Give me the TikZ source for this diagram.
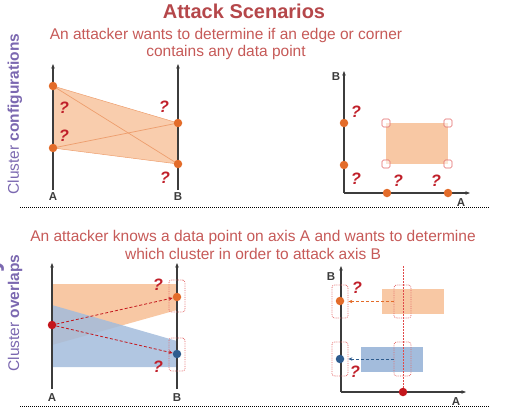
\documentclass[tikz,border=0pt]{standalone}
\usepackage{fontspec}
\setmainfont{Liberation Sans}
\usetikzlibrary{arrows.meta}
\definecolor{titlered}{HTML}{B5474A}
\definecolor{subred}{HTML}{C65A58}
\definecolor{qred}{HTML}{C0202A}
\definecolor{purp}{HTML}{7B68B0}
\definecolor{peach}{HTML}{F8C8A4}
\definecolor{orangedot}{HTML}{E36C2A}
\definecolor{orangeline}{HTML}{EE9E6E}
\definecolor{bluefill}{HTML}{A3BCDC}
\definecolor{bluedot}{HTML}{2E5C8E}
\definecolor{reddot}{HTML}{C4161C}
\definecolor{axisgray}{HTML}{3C3C3C}
\definecolor{boxred}{HTML}{E36A6A}
\definecolor{vlinered}{HTML}{E04A4A}
\begin{document}
\begin{tikzpicture}[x=1pt,y=-1pt,
  axis/.style={draw=axisgray, line width=1.4pt, -{Stealth[length=4.5pt,width=3.5pt]}},
  dot/.style={circle, inner sep=0pt, minimum size=8.5pt, fill=#1},
  qm/.style={text=qred, inner sep=0pt, font=\fontsize{16.5}{16.5}\selectfont\bfseries\itshape},
  axlabel/.style={text=axisgray, inner sep=0pt, font=\fontsize{11.5}{11.5}\selectfont\bfseries},
  subtitle/.style={text=subred, align=center, inner sep=0pt, font=\fontsize{15.5}{17.5}\selectfont},
  sidelabel/.style={text=purp, rotate=90, inner sep=0pt, font=\fontsize{15.5}{15.5}\selectfont},
  cornerbox/.style={draw=boxred, line width=0.6pt, fill=white, fill opacity=0.55, rounded corners=1.5pt, minimum size=8pt, inner sep=0pt},
  selbox/.style={draw=boxred, densely dotted, line width=0.8pt, rounded corners=2.5pt, inner sep=0pt, minimum width=#1},
  dasharrow/.style={draw=#1, dash pattern=on 3pt off 2pt, line width=0.8pt, -{Stealth[length=4pt,width=3.5pt]}},
  separator/.style={draw=black, densely dotted, line width=1pt}
]
\useasboundingbox (0,0) rectangle (514,410);

% ---------- headings ----------
\node[text=titlered, inner sep=0pt, font=\fontsize{20}{20}\selectfont\bfseries, anchor=base] (title) at (244,18.5) {Attack Scenarios};
\node[subtitle] (sub1) at (226,44) {An attacker wants to determine if an edge or corner\\contains any data point};
\node[subtitle] (sub2) at (253,245) {An attacker knows a data point on axis A and wants to determine\\which cluster in order to attack axis B};
\node[sidelabel] (side1) at (15,114) {Cluster \textbf{configurations}};
\node[sidelabel] (side2) at (15,313) {Cluster \textbf{overlaps}};
\node[text=purp, rotate=90, inner sep=0pt, anchor=base east, font=\fontsize{26}{26}\selectfont\bfseries] (side3) at (-1.5,258) {Uncertainty};

% ---------- separators ----------
\coordinate (s1l) at (20,207); \coordinate (s1r) at (490,207);
\coordinate (s2l) at (20,406); \coordinate (s2r) at (490,406);
\draw[separator] (s1l) -- (s1r);
\draw[separator] (s2l) -- (s2r);

% ---------- top left: parallel coordinates ----------
\coordinate (tlA0) at (53,190); \coordinate (tlA1) at (53,64);
\coordinate (tlB0) at (178,190); \coordinate (tlB1) at (178,64);
\coordinate (a1) at (53,86);
\coordinate (a2) at (53,148);
\coordinate (b1) at (178,123);
\coordinate (b2) at (178,164);
\fill[peach, opacity=0.9] (a1) -- (b1) -- (b2) -- (a2) -- cycle;
\draw[orangeline, line width=0.5pt] (a1) -- (b1);
\draw[orangeline, line width=0.5pt] (a2) -- (b2);
\draw[orangeline, line width=0.7pt] (a1) -- (b2);
\draw[orangeline, line width=0.7pt] (a2) -- (b1);
\draw[axis] (tlA0) -- (tlA1);
\draw[axis] (tlB0) -- (tlB1);
\node[dot=orangedot] (da1) at (a1) {};
\node[dot=orangedot] (da2) at (a2) {};
\node[dot=orangedot] (db1) at (b1) {};
\node[dot=orangedot] (db2) at (b2) {};
\node[axlabel] (tlAl) at (53,197) {A};
\node[axlabel] (tlBl) at (178,197) {B};
\node[qm] (q1) at (64,108) {?};
\node[qm] (q2) at (64,136) {?};
\node[qm] (q3) at (164,107) {?};
\node[qm] (q4) at (165,178) {?};

% ---------- top right: scatter ----------
\coordinate (trO) at (344,193); \coordinate (trY) at (344,71); \coordinate (trX) at (470,193);
\fill[peach] (386,123) rectangle (448,164);
\node[cornerbox] (c1) at (386,123) {};
\node[cornerbox] (c2) at (448,123) {};
\node[cornerbox] (c3) at (386,164) {};
\node[cornerbox] (c4) at (448,164) {};
\draw[axis] (trO) -- (trY);
\draw[axis] (trO) -- (trX);
\node[dot=orangedot] (ry1) at (344,123) {};
\node[dot=orangedot] (ry2) at (344,165) {};
\node[dot=orangedot] (rx1) at (387,193) {};
\node[dot=orangedot] (rx2) at (448,193) {};
\node[axlabel] (trBl) at (336,77) {B};
\node[axlabel] (trAl) at (461,203) {A};
\node[qm] (q5) at (356,112) {?};
\node[qm] (q6) at (356,179) {?};
\node[qm] (q7) at (398,181) {?};
\node[qm] (q8) at (436,181) {?};

% ---------- bottom left: parallel coordinates overlap ----------
\coordinate (blA0) at (52,389); \coordinate (blA1) at (52,263);
\coordinate (blB0) at (177,389); \coordinate (blB1) at (177,263);
\fill[peach] (52,284) -- (177,284) -- (177,310) -- (52,345) -- cycle;
\fill[bluefill, opacity=0.85] (52,305) -- (177,341) -- (177,367) -- (52,367) -- cycle;
\draw[axis] (blA0) -- (blA1);
\draw[axis] (blB0) -- (blB1);
\node[dot=reddot] (pr) at (52,325) {};
\node[dot=orangedot] (po) at (177,297) {};
\node[dot=bluedot] (pb) at (177,354) {};
\node[selbox=16pt, minimum height=32pt] (bo) at (177,296) {};
\node[selbox=16pt, minimum height=33pt] (bb) at (177,354.5) {};
\draw[dasharrow=reddot] (pr) -- (po);
\draw[dasharrow=reddot] (pr) -- (pb);
\node[axlabel] (blAl) at (52,398) {A};
\node[axlabel] (blBl) at (177,398) {B};
\node[qm] (q9) at (158,285) {?};
\node[qm] (q10) at (158,367) {?};

% ---------- bottom right: scatter overlap ----------
\coordinate (brO) at (341,392); \coordinate (brY) at (341,266); \coordinate (brX) at (466,392);
\coordinate (vtop) at (403,266);
\fill[peach] (382,289) rectangle (444,314);
\fill[bluefill] (361,347) rectangle (423,372);
\draw[axis] (brO) -- (brY);
\draw[axis] (brO) -- (brX);
\node[dot=reddot] (pv) at (403,392) {};
\draw[draw=vlinered, dash pattern=on 1.5pt off 1.5pt, line width=1pt] (vtop) -- (pv);
\node[dot=orangedot] (yo) at (340,301) {};
\node[dot=bluedot] (yb) at (340,359) {};
\node[selbox=16pt, minimum height=33pt] (byo) at (340,301.5) {};
\node[selbox=16pt, minimum height=34pt] (byb) at (340,359) {};
\node[selbox=17pt, minimum height=33pt] (bxo) at (402.5,301.5) {};
\node[selbox=17pt, minimum height=34pt] (bxb) at (402.5,359) {};
\draw[dasharrow=orangedot, line width=0.6pt] (bxo.west) -- (byo.east);
\draw[dasharrow=bluedot, line width=0.6pt] (bxb.west) -- (byb.east);
\node[axlabel] (brBl) at (331,277) {B};
\node[axlabel] (brAl) at (456,402) {A};
\node[qm] (q11) at (357,288) {?};
\node[qm] (q12) at (355,372) {?};
\end{tikzpicture}
\end{document}
